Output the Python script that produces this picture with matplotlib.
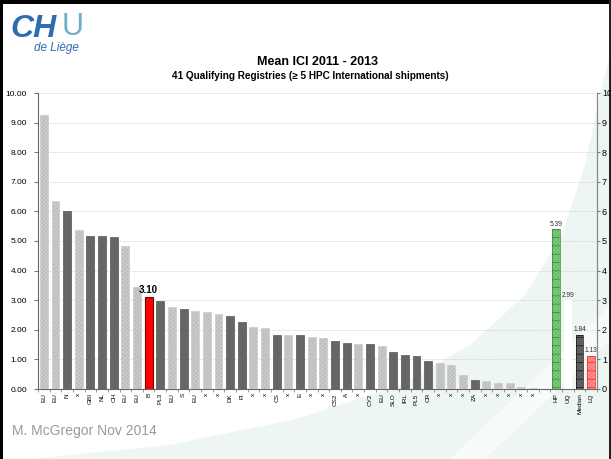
import matplotlib
matplotlib.use('Agg')
import matplotlib.pyplot as plt
import numpy as np
from matplotlib.patches import Polygon, Rectangle

plt.rcParams['font.family'] = ['Liberation Sans', 'DejaVu Sans']
plt.rcParams['hatch.linewidth'] = 0.5

# ---- data ----
reg_labels = ['EU', 'EU', 'N', 'x', 'GBI', 'NL', 'CH', 'EU', 'EU', 'B', 'PL3', 'EU', 'S', 'EU',
              'x', 'x', 'DK', 'FI', 'x', 'x', 'CS', 'x', 'E', 'x', 'x', 'CS2', 'A', 'x', 'CY2',
              'EU', 'SLO', 'IRL', 'PL5', 'CR', 'x', 'x', 'x', 'ZA', 'x', 'x', 'x', 'x', 'x']
reg_values = [9.27, 6.35, 6.02, 5.38, 5.16, 5.16, 5.14, 4.83, 3.45, 3.10, 2.98, 2.78, 2.70, 2.65,
              2.60, 2.53, 2.48, 2.25, 2.08, 2.06, 1.84, 1.83, 1.82, 1.74, 1.71, 1.62, 1.55, 1.52,
              1.52, 1.46, 1.25, 1.14, 1.10, 0.95, 0.87, 0.81, 0.47, 0.30, 0.28, 0.21, 0.21, 0.08, 0.05]
highlight = 'B'
light_labels = ['EU', 'x']
sum_labels = ['HP', 'UQ', 'Median', 'LQ']
sum_values = [5.39, 2.99, 1.84, 1.13]
yticks = [0, 1, 2, 3, 4, 5, 6, 7, 8, 9, 10]

W, H = 611, 459
fig = plt.figure(figsize=(W / 100, H / 100), dpi=100)
fig.patch.set_facecolor('white')

def fp(x, y):
    return (x / W, 1 - y / H)

# background swoosh
curve = [(30, 459), (170, 445), (300, 418), (400, 385), (470, 345), (525, 295), (562, 235),
         (585, 165), (600, 95), (611, 50), (611, 459)]
fig.patches.append(Polygon([fp(*p) for p in curve], closed=True, transform=fig.transFigure,
                           facecolor='#edf6f2', edgecolor='none', zorder=0))
band = [(450, 459), (485, 459), (611, 340), (611, 305)]
fig.patches.append(Polygon([fp(*p) for p in band], closed=True, transform=fig.transFigure,
                           facecolor='#f7fbf9', edgecolor='none', zorder=0))

# slide border
fig.patches.append(Rectangle(fp(0, 459), 3 / W, 1, transform=fig.transFigure,
                             facecolor='black', edgecolor='none', zorder=0.5))
fig.patches.append(Rectangle(fp(0, 4), 1, 4 / H, transform=fig.transFigure,
                             facecolor='black', edgecolor='none', zorder=0.5))
fig.patches.append(Rectangle(fp(609, 459), 2 / W, 1, transform=fig.transFigure,
                             facecolor='#222222', edgecolor='none', zorder=0.5))

left, right, bottom, top = 38, 597, 389, 93
ax = fig.add_axes([left / W, 1 - bottom / H, (right - left) / W, (bottom - top) / H])
ax.patch.set_alpha(0)
ax.set_zorder(2)

n = len(reg_values)
xr = np.arange(n)
xs = np.arange(n + 1, n + 1 + len(sum_values))
bw = 0.68

for xi, lab, v in zip(xr, reg_labels, reg_values):
    if lab == highlight:
        ax.bar(xi, v, bw, color='#ff0000', edgecolor='#7a0000', linewidth=0.8, zorder=3)
        ax.text(xi, v + 0.08, f'{v:.2f}', ha='center', va='bottom', fontsize=7,
                fontweight='bold', zorder=4)
    elif lab in light_labels:
        ax.bar(xi, v, bw, color='#bdbdbd', edgecolor='#cdcdcd', linewidth=0.5,
               hatch='xxxxxxxx', zorder=3)
    else:
        ax.bar(xi, v, bw, color='#666666', edgecolor='#555555', linewidth=0.5, zorder=3)

# summary bars
sum_face = ['#66bb66', 'white', '#555555', '#ff7070']
sum_hatch_col = ['#88cc88', 'white', '#6a6a6a', '#ff9999']
sum_line_col = ['#2d8a2d', 'white', '#111111', '#ee2222']
for xi, v, fc, hc, lc in zip(xs, sum_values, sum_face, sum_hatch_col, sum_line_col):
    ax.bar(xi, v, bw, color=fc, edgecolor=hc, linewidth=0, hatch='xxxxxxxx', zorder=3)
    if fc != 'white':
        ax.bar(xi, v, bw, color='none', edgecolor=lc, linewidth=0, hatch='--', zorder=3.5)
        ax.bar(xi, v, bw, color='none', edgecolor=lc, linewidth=0.5, zorder=3.6)
    ax.text(xi, v + 0.06, f'{v:.2f}', ha='center', va='bottom', fontsize=4.8,
            color='#333333', zorder=4)

ax.set_xlim(-0.5, n + len(sum_values) + 0.5)
ax.set_ylim(0, 10)
ax.set_yticks(yticks)
ax.set_yticklabels([f'{t:.2f}' for t in yticks], fontsize=6)
allx = list(xr) + list(xs)
ax.set_xticks(allx)
ax.set_xticklabels(reg_labels + sum_labels, rotation=90, fontsize=4.6)
ax.tick_params(axis='x', length=0, pad=3)
ax.set_xticks(np.arange(-0.5, n + len(sum_values) + 1, 1), minor=True)
ax.tick_params(axis='x', which='minor', length=2, color='#888888')
ax.tick_params(axis='y', length=3, color='#777777', pad=5)
ax.yaxis.grid(True, linestyle=(0, (1, 1)), color='#cfcfcf', linewidth=0.6, zorder=0)
ax.set_axisbelow(True)
ax.spines['top'].set_visible(False)
ax.spines['left'].set_color('#666666')
ax.spines['bottom'].set_color('#666666')
ax.spines['right'].set_color('#888888')

ax2 = ax.twinx()
ax2.set_zorder(3)
ax2.set_ylim(0, 10)
ax2.set_yticks(yticks)
ax2.set_yticklabels([str(t) for t in yticks], fontsize=6.5)
ax2.tick_params(axis='y', length=2, color='#777777', pad=1.5)
for s in ['top', 'left', 'bottom']:
    ax2.spines[s].set_visible(False)
ax2.spines['right'].set_color('#888888')

# titles
fig.text(*fp(318, 62), 'Mean ICI 2011 - 2013', ha='center', va='center', fontsize=9,
         fontweight='bold')
fig.text(*fp(310, 76), '41 Qualifying Registries (\u2265 5 HPC International shipments)',
         ha='center', va='center', fontsize=7.2, fontweight='bold')

# logo
fig.text(*fp(10, 29), 'CH', ha='left', va='center', fontsize=23, fontweight='bold',
         style='italic', color='#2f6db3')
fig.text(*fp(62, 27), 'U', ha='left', va='center', fontsize=22,
         color='#6aaed0')
fig.text(*fp(34, 48), 'de Liège', ha='left', va='center', fontsize=8.5,
         style='italic', color='#2f6db3')

fig.text(*fp(12, 431), 'M. McGregor Nov 2014', ha='left', va='center', fontsize=10,
         color='#9a9a9a')

fig.savefig('out.png', dpi=100, facecolor='white')
